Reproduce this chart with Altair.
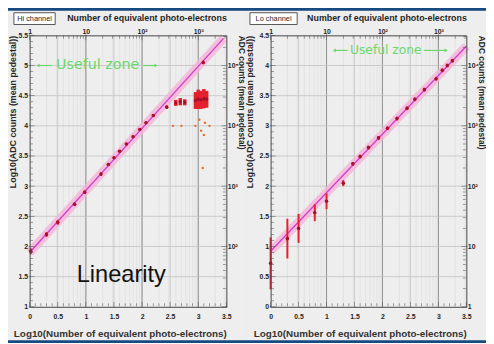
import math
import altair as alt
import pandas as pd

# ---------------- data ----------------
# Hi channel (left panel)
hi_x = [0.02, 0.30, 0.50, 0.80, 0.98, 1.27, 1.40, 1.50, 1.60, 1.72, 1.84, 1.96, 2.07, 2.20, 2.44, 3.09]
hi_y = [1.92, 2.20, 2.40, 2.70, 2.90, 3.20, 3.36, 3.47, 3.58, 3.70, 3.82, 3.94, 4.05, 4.17, 4.31, 5.05]
hi_err = [0.05, 0.04, 0.04, 0.03, 0.03, 0.03, 0.02, 0.02, 0.02, 0.02, 0.02, 0.02, 0.02, 0.02, 0.03, 0.03]
sat_x = [2.60, 2.68, 2.76, 2.95, 3.00, 3.05, 3.10, 3.15]
sat_y = [4.38, 4.40, 4.39, 4.42, 4.44, 4.43, 4.45, 4.44]
sat_err = [0.05, 0.06, 0.05, 0.14, 0.16, 0.15, 0.16, 0.14]
out_x = [2.55, 2.70, 2.95, 3.02, 3.05, 3.10, 3.12, 3.08, 3.20]
out_y = [4.00, 4.00, 4.00, 4.10, 3.92, 3.85, 4.05, 3.30, 4.00]
fit_hi_x = [0.0, 3.45]
fit_hi_y = [1.90, 5.45]

# Lo channel (right panel)
lo_x = [0.00, 0.30, 0.50, 0.79, 1.00, 1.30, 1.47, 1.60, 1.75, 1.93, 2.09, 2.26, 2.44, 2.58, 2.75, 2.96, 3.07, 3.16, 3.25]
lo_y = [0.72, 1.13, 1.30, 1.56, 1.75, 2.05, 2.37, 2.49, 2.64, 2.80, 2.96, 3.12, 3.29, 3.44, 3.60, 3.78, 3.92, 4.00, 4.08]
lo_err = [0.43, 0.33, 0.24, 0.14, 0.13, 0.05, 0.03, 0.03, 0.03, 0.03, 0.03, 0.03, 0.03, 0.03, 0.03, 0.03, 0.03, 0.03, 0.03]
fit_lo_x = [0.0, 3.5]
fit_lo_y = [0.92, 4.32]

# axes / tick labels
x_ticks = [0, 0.5, 1, 1.5, 2, 2.5, 3, 3.5]
hi_y_ticks = [1, 1.5, 2, 2.5, 3, 3.5, 4, 4.5, 5, 5.5]
lo_y_ticks = [0, 0.5, 1, 1.5, 2, 2.5, 3, 3.5, 4, 4.5]
top_vals = [0, 1, 2, 3]
top_labels = ["1", "10", "10²", "10³"]
hi_right_vals = [2, 3, 4, 5]
hi_right_labels = ["10²", "10³", "10⁴", "10⁵"]
lo_right_vals = [0, 1, 2, 3, 4]
lo_right_labels = ["1", "10", "10²", "10³", "10⁴"]

# annotations
hi_useful = {"x0": 0.15, "x1": 2.25, "t0": 0.40, "t1": 2.02, "y": 5.0, "tx": 1.21}
lo_useful = {"x0": 1.14, "x1": 3.14, "t0": 1.38, "t1": 2.74, "y": 4.25, "tx": 2.06}
linearity_pos = {"x": 1.63, "y": 1.52}

# ---------------- styling ----------------
H = 276
BG = "#174a80"
PANEL = "#eeeeee"
TXT = "#262626"
FONT = "Liberation Sans"
RED = "#e3202c"
DOT = "#a8102a"
GREEN = "#6ad86a"
XTITLE = "Log10(Number of equivalent photo-electrons)"
YTITLE = "Log10(ADC counts (mean pedestal))"


def label_expr(vals, labels):
    expr = "''"
    for v, l in zip(reversed(vals), reversed(labels)):
        expr = f"datum.value == {v} ? '{l}' : ({expr})"
    return expr


def log_positions(lo, hi):
    out = []
    for n in range(int(math.floor(lo)), int(math.ceil(hi)) + 1):
        for k in range(2, 10):
            v = n + math.log10(k)
            if lo < v < hi:
                out.append(round(v, 4))
    return out


def axis_common(**kw):
    base = dict(labelFont=FONT, labelFontSize=7, labelFontWeight="bold", labelColor=TXT,
                titleFont=FONT, titleFontSize=9, titleFontWeight="bold", titleColor=TXT,
                domainColor="#444444", domainWidth=1, ticks=False, grid=False, zindex=1,
                labelFlush=False)
    base.update(kw)
    return alt.Axis(**base)


def panel(W, xdom, ydom, px, py, perr, fitx, fity, yticks, rvals, rlabels, box_text,
          box_x0, box_x1, bg_x0, bg_x1, ltitle_x, useful, ufont, extra=None):
    xs = alt.Scale(domain=xdom, nice=False, zero=False)
    ys = alt.Scale(domain=ydom, nice=False, zero=False)
    XA = axis_common(orient="bottom", values=x_ticks, format="~g", labelPadding=6,
                     titleFontSize=10, titleY=32, titleBaseline="bottom", titleAnchor="end",
                     titleColor="#333333")
    YA = axis_common(orient="left", values=yticks, format="~g", labelPadding=2,
                     titleAnchor="end", titleAlign="right", titleAngle=270,
                     titleX=ltitle_x, titleBaseline="bottom", titleFontSize=9)

    def X(f):
        return alt.X(f, scale=xs, axis=XA, title=XTITLE)

    def Y(f):
        return alt.Y(f, scale=ys, axis=YA, title=YTITLE)

    one = pd.DataFrame({"a": [0]})

    bg = alt.Chart(one).mark_rect(color=PANEL).encode(
        x=alt.value(bg_x0), x2=alt.value(W + bg_x1), y=alt.value(-25), y2=alt.value(H + 34))

    # grid lines
    gx_log = alt.Chart(pd.DataFrame({"v": log_positions(*xdom)})).mark_rule(
        color="#dedede", strokeWidth=0.7).encode(x=X("v:Q"))
    gx = alt.Chart(pd.DataFrame({"v": [v for v in x_ticks if xdom[0] < v < xdom[1]]})).mark_rule(
        color="#c2c2c2", strokeWidth=0.8).encode(x=X("v:Q"))
    gx_dec = alt.Chart(pd.DataFrame({"v": top_vals[1:]})).mark_rule(
        color="#8a8a8a", strokeWidth=0.9).encode(x=X("v:Q"))
    gy = alt.Chart(pd.DataFrame({"v": [v for v in yticks if ydom[0] < v < ydom[1]]})).mark_rule(
        color="#c2c2c2", strokeWidth=0.8).encode(y=Y("v:Q"))

    fit = pd.DataFrame({"x": fitx, "y": fity})
    band = alt.Chart(fit).mark_line(color="#f5b2d8", strokeWidth=9, opacity=0.8).encode(
        x=X("x:Q"), y=Y("y:Q"))
    fline = alt.Chart(fit).mark_line(color="#d23ccb", strokeWidth=1.3).encode(
        x=X("x:Q"), y=Y("y:Q"))

    pts = pd.DataFrame({"x": px, "y": py, "lo": [a - b for a, b in zip(py, perr)],
                        "hi": [a + b for a, b in zip(py, perr)]})
    ebar = alt.Chart(pts).mark_rule(color=RED, strokeWidth=2).encode(
        x=X("x:Q"), y=Y("lo:Q"), y2="hi:Q")
    dots = alt.Chart(pts).mark_circle(color=DOT, size=13, opacity=1).encode(
        x=X("x:Q"), y=Y("y:Q"))

    layers = [bg, gx_log, gx, gx_dec, gy, band, fline, ebar, dots]
    if extra is not None:
        layers += extra(X, Y)

    # useful zone
    u = useful
    segs = pd.DataFrame({"a": [u["x0"], u["t1"]], "b": [u["t0"], u["x1"]], "y": [u["y"], u["y"]]})
    useg = alt.Chart(segs).mark_rule(color=GREEN, strokeWidth=1.2).encode(
        x=X("a:Q"), x2="b:Q", y=Y("y:Q"))
    arr = pd.DataFrame({"x": [u["x0"], u["x1"]], "y": [u["y"], u["y"]],
                        "s": ["triangle-left", "triangle-right"]})
    uarr = alt.Chart(arr).mark_point(color=GREEN, filled=True, size=14, opacity=1).encode(
        x=X("x:Q"), y=Y("y:Q"), shape=alt.Shape("s:N", scale=None, legend=None))
    utxt = alt.Chart(pd.DataFrame({"x": [u["tx"]], "y": [u["y"]], "t": ["Useful zone"]})).mark_text(
        color=GREEN, font="DejaVu Sans", fontSize=ufont, baseline="middle", align="center").encode(
        x=X("x:Q"), y=Y("y:Q"), text="t:N")
    layers += [useg, uarr, utxt]

    # inward ROOT-like ticks
    minor_x = [round(xdom[0] + 0.1 * i, 2) for i in range(int(round((xdom[1] - xdom[0]) / 0.1)) + 1)]
    minor_y = [round(ydom[0] + 0.1 * i, 2) for i in range(int(round((ydom[1] - ydom[0]) / 0.1)) + 1)]
    tdf_x = pd.DataFrame({"v": minor_x, "L": [6 if abs(v * 2 - round(v * 2)) < 1e-6 else 3 for v in minor_x]})
    tdf_y = pd.DataFrame({"v": minor_y, "L": [6 if abs(v * 2 - round(v * 2)) < 1e-6 else 3 for v in minor_y]})
    tdf_top = pd.DataFrame({"v": top_vals + log_positions(*xdom),
                            "L": [6] * len(top_vals) + [3] * len(log_positions(*xdom))})
    rlog = log_positions(*ydom)
    rdec = list(range(int(math.ceil(ydom[0])), int(math.floor(ydom[1])) + 1))
    tdf_r = pd.DataFrame({"v": rdec + rlog, "L": [6] * len(rdec) + [3] * len(rlog)})
    tcol = "#555555"
    tb = alt.Chart(tdf_x).mark_tick(color=tcol, thickness=0.8, orient="vertical").encode(
        x=X("v:Q"), y=alt.value(H - 2), size=alt.Size("L:Q", scale=None, legend=None))
    tt = alt.Chart(tdf_top).mark_tick(color=tcol, thickness=0.8, orient="vertical").encode(
        x=X("v:Q"), y=alt.value(2), size=alt.Size("L:Q", scale=None, legend=None))
    tl = alt.Chart(tdf_y).mark_tick(color=tcol, thickness=0.8, orient="horizontal").encode(
        y=Y("v:Q"), x=alt.value(2), size=alt.Size("L:Q", scale=None, legend=None))
    tr = alt.Chart(tdf_r).mark_tick(color=tcol, thickness=0.8, orient="horizontal").encode(
        y=Y("v:Q"), x=alt.value(W - 2), size=alt.Size("L:Q", scale=None, legend=None))
    layers += [tb, tt, tl, tr]

    # title box
    boxr = alt.Chart(one).mark_rect(fill="white", stroke="#555555", strokeWidth=1).encode(
        x=alt.value(box_x0), x2=alt.value(box_x1), y=alt.value(-23), y2=alt.value(-11))
    boxt = alt.Chart(pd.DataFrame({"t": [box_text]})).mark_text(
        font=FONT, fontSize=7.5, color=TXT, baseline="middle", align="center").encode(
        x=alt.value((box_x0 + box_x1) / 2), y=alt.value(-17), text="t:N")
    layers += [boxr, boxt]

    main = alt.layer(*layers)

    sec = alt.Chart(pd.DataFrame({"x": [xdom[0]], "y": [ydom[0]]})).mark_point(opacity=0).encode(
        x=alt.X("x:Q", scale=alt.Scale(domain=xdom, nice=False, zero=False),
                title="Number of equivalent photo-electrons",
                axis=axis_common(orient="top", values=top_vals, labelExpr=label_expr(top_vals, top_labels),
                                 labelPadding=1, titleAnchor="end", titleFontSize=9,
                                 titleY=-13.5, titleBaseline="bottom")),
        y=alt.Y("y:Q", scale=alt.Scale(domain=ydom, nice=False, zero=False),
                title="ADC counts (mean pedestal)",
                axis=axis_common(orient="right", values=rvals, labelExpr=label_expr(rvals, rlabels),
                                 labelPadding=1, titleAnchor="end", titleAngle=90, titleAlign="left",
                                 titleX=10, titleBaseline="bottom", titleFontSize=8.5)))

    return alt.layer(main, sec).resolve_scale(x="independent", y="independent").properties(
        width=W, height=H)


def hi_extra(X, Y):
    sat = pd.DataFrame({"x": sat_x, "y": sat_y, "lo": [a - b for a, b in zip(sat_y, sat_err)],
                        "hi": [a + b for a, b in zip(sat_y, sat_err)]})
    out = pd.DataFrame({"x": out_x, "y": out_y})
    sbar = alt.Chart(sat).mark_rule(color=RED, strokeWidth=3.5).encode(
        x=X("x:Q"), y=Y("lo:Q"), y2="hi:Q")
    sdot = alt.Chart(sat).mark_circle(color=DOT, size=12, opacity=1).encode(
        x=X("x:Q"), y=Y("y:Q"))
    odot = alt.Chart(out).mark_circle(color="#e8702a", size=6, opacity=1).encode(
        x=X("x:Q"), y=Y("y:Q"))
    lin = alt.Chart(pd.DataFrame({"x": [linearity_pos["x"]], "y": [linearity_pos["y"]],
                                  "t": ["Linearity"]})).mark_text(
        font=FONT, fontSize=24, color="#111111", baseline="middle", align="center").encode(
        x=X("x:Q"), y=Y("y:Q"), text="t:N")
    return [sbar, sdot, odot, lin]


left = panel(200, [0, 3.5], [1, 5.5], hi_x, hi_y, hi_err, fit_hi_x, fit_hi_y, hi_y_ticks,
             hi_right_vals, hi_right_labels, "Hi channel", -16, 26, -22, 20, -12, hi_useful, 14.5,
             extra=hi_extra)
right = panel(199, [0, 3.5], [0, 4.5], lo_x, lo_y, lo_err, fit_lo_x, fit_lo_y, lo_y_ticks,
              lo_right_vals, lo_right_labels, "Lo channel", -21, 27, -25, 20, -16, lo_useful, 12.5)

chart = alt.hconcat(left, right, spacing=45, bounds="flush").properties(
    padding={"left": 0, "top": 0, "right": 0, "bottom": 0}
).configure(background=BG).configure_view(strokeWidth=0)

chart.save("out.html", embed_options={"renderer": "svg", "actions": False})
